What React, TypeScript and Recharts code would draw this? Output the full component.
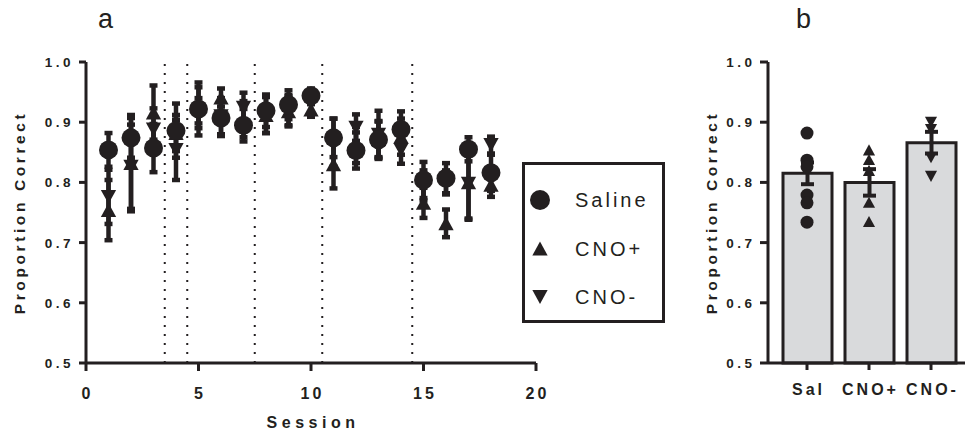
import {
  Bar,
  ComposedChart,
  ErrorBar,
  Legend,
  Line,
  ReferenceLine,
  Scatter,
  ScatterChart,
  XAxis,
  YAxis,
} from 'recharts'

const INK = '#231f20'
const BAR_FILL = '#d9dadc'
const FONT = '"Liberation Sans", Arial, Helvetica, sans-serif'

// panel a: per-session group means and SEM
const sessions = [1, 2, 3, 4, 5, 6, 7, 8, 9, 10, 11, 12, 13, 14, 15, 16, 17, 18]
const salineMean = [0.854, 0.874, 0.857, 0.886, 0.922, 0.907, 0.895, 0.919, 0.929, 0.944, 0.874, 0.853, 0.871, 0.888, 0.804, 0.807, 0.855, 0.816]
const salineErr = [0.028, 0.033, 0.04, 0.045, 0.044, 0.03, 0.027, 0.027, 0.024, 0.012, 0.032, 0.03, 0.03, 0.03, 0.03, 0.025, 0.02, 0.03]
const cnoPlusMean = [0.754, 0.832, 0.916, 0.882, 0.928, 0.941, 0.905, 0.912, 0.918, 0.921, 0.83, 0.862, 0.872, 0.876, 0.766, 0.732, 0.8, 0.796]
const cnoPlusErr = [0.05, 0.08, 0.045, 0.03, 0.03, 0.015, 0.03, 0.03, 0.025, 0.012, 0.04, 0.03, 0.03, 0.03, 0.025, 0.023, 0.06, 0.02]
const cnoMinusMean = [0.776, 0.826, 0.888, 0.854, 0.915, 0.91, 0.924, 0.912, 0.92, 0.94, 0.866, 0.891, 0.879, 0.854, 0.795, 0.8, 0.798, 0.862]
const cnoMinusErr = [0.045, 0.07, 0.035, 0.05, 0.025, 0.03, 0.025, 0.03, 0.025, 0.01, 0.04, 0.022, 0.04, 0.023, 0.025, 0.02, 0.06, 0.014]
const phaseBreaks = [3.5, 4.5, 7.5, 10.5, 14.5]
const sessionTicks = [0, 5, 10, 15, 20]
const proportionTicks = [0.5, 0.6, 0.7, 0.8, 0.9, 1.0]

// panel b: group means, SEM and individual animals
const groups = ['Sal', 'CNO+', 'CNO-']
const groupMean = [0.815, 0.8, 0.866]
const groupErr = [0.018, 0.022, 0.018]
const salPoints = [0.882, 0.837, 0.826, 0.779, 0.766, 0.734]
const cnoPlusPoints = [0.854, 0.838, 0.82, 0.767, 0.735]
const cnoMinusPoints = [0.9, 0.888, 0.841, 0.81]

type Kind = 'circle' | 'up' | 'down'

const toRows = (mean: number[], err: number[]) =>
  sessions.map((x, i) => ({ x, y: mean[i], e: err[i] }))

const salineData = toRows(salineMean, salineErr)
const cnoPlusData = toRows(cnoPlusMean, cnoPlusErr)
const cnoMinusData = toRows(cnoMinusMean, cnoMinusErr)

const groupPoints = [salPoints, cnoPlusPoints, cnoMinusPoints]
const groupKinds: Kind[] = ['circle', 'up', 'down']
const pointKeys = [0, 1, 2, 3, 4, 5].map((i) => `p${i}`)
const barRows = groups.map((name, g) => {
  const row: Record<string, any> = { name, kind: groupKinds[g], mean: groupMean[g], err: groupErr[g] }
  groupPoints[g].forEach((v, i) => {
    row[`p${i}`] = v
  })
  return row
})

const legendItems: { label: string; kind: Kind }[] = [
  { label: 'Saline', kind: 'circle' },
  { label: 'CNO+', kind: 'up' },
  { label: 'CNO-', kind: 'down' },
]

function Marker({ kind, cx, cy, size }: { kind: Kind; cx: number; cy: number; size: number }) {
  if (kind === 'circle') return <circle cx={cx} cy={cy} r={size / 2} fill={INK} />
  const w = size * 0.9
  const h = size * 0.82
  const pts =
    kind === 'up'
      ? `${cx},${cy - h / 2} ${cx + w / 2},${cy + h / 2} ${cx - w / 2},${cy + h / 2}`
      : `${cx},${cy + h / 2} ${cx + w / 2},${cy - h / 2} ${cx - w / 2},${cy - h / 2}`
  return <polygon points={pts} fill={INK} />
}

const tickText = { fill: INK, fontFamily: FONT, fontWeight: 700 }

function YTick({ x, y, payload }: any) {
  return (
    <text x={x} y={y} dy={5} textAnchor="end" fontSize={13.5} letterSpacing={3.5} {...tickText}>
      {Number(payload.value).toFixed(1)}
    </text>
  )
}

function XTick({ x, y, payload }: any) {
  return (
    <text x={x} y={y} dx={1.5} dy={26} textAnchor="middle" fontSize={16} letterSpacing={3} {...tickText}>
      {payload.value}
    </text>
  )
}

function GroupTick({ x, y, payload }: any) {
  return (
    <text x={x} y={y} dx={1.5} dy={23} textAnchor="middle" fontSize={16} letterSpacing={3} {...tickText}>
      {payload.value}
    </text>
  )
}

function yTitle(cx: number) {
  return (props: any) => {
    const vb = props.viewBox
    const cy = vb.y + vb.height / 2
    return (
      <text
        x={cx}
        y={cy}
        dy={5}
        transform={`rotate(-90 ${cx} ${cy})`}
        textAnchor="middle"
        fontSize={15.5}
        letterSpacing={3.6}
        {...tickText}
      >
        Proportion Correct
      </text>
    )
  }
}

function sessionTitle(props: any) {
  const vb = props.viewBox
  return (
    <text x={vb.x + vb.width / 2 + 2} y={vb.y + 65} textAnchor="middle" fontSize={16} letterSpacing={4.5} {...tickText}>
      Session
    </text>
  )
}

function LegendBox() {
  return (
    <svg width={143} height={161}>
      <rect x={1.5} y={1.5} width={140} height={158} fill="#fff" stroke={INK} strokeWidth={3} />
      {legendItems.map((item, i) => {
        const cy = 38 + i * 48.5
        return (
          <g key={item.label}>
            <Marker kind={item.kind} cx={18} cy={cy} size={item.kind === 'circle' ? 20 : 17} />
            <text x={53} y={cy + 7} fontFamily={FONT} fontSize={20} letterSpacing={3} fill={INK}>
              {item.label}
            </text>
          </g>
        )
      })}
    </svg>
  )
}

const axisStroke = { stroke: INK, strokeWidth: 3 }

function scatterShape(kind: Kind) {
  return (p: any) => <Marker kind={kind} cx={p.cx} cy={p.cy} size={kind === 'circle' ? 19 : 17} />
}

function groupDot(p: any) {
  if (p.cy == null || p.value == null || Number.isNaN(p.cy)) return <g key={p.key} />
  const kind = p.payload.kind as Kind
  return (
    <g key={p.key}>
      <Marker kind={kind} cx={p.cx} cy={p.cy} size={kind === 'circle' ? 13 : 13.5} />
    </g>
  )
}

export default function App() {
  return (
    <div style={{ position: 'relative', width: 965, height: 434, background: '#fff', fontFamily: FONT }}>
      <style>{'body{margin:0}'}</style>
      <svg width={965} height={40} style={{ position: 'absolute', left: 0, top: 0 }}>
        <text x={98} y={28} fontFamily={FONT} fontSize={27} fill={INK}>
          a
        </text>
        <text x={796} y={28} fontFamily={FONT} fontSize={27} fill={INK}>
          b
        </text>
      </svg>

      <div style={{ position: 'absolute', left: 0, top: 0 }}>
        <ScatterChart width={700} height={434} margin={{ top: 62, right: 164, bottom: 11, left: 0 }}>
          <XAxis
            type="number"
            dataKey="x"
            domain={[0, 20]}
            ticks={sessionTicks}
            height={60}
            tickSize={8}
            axisLine={axisStroke}
            tickLine={axisStroke}
            tick={<XTick />}
            label={{ content: sessionTitle }}
          />
          <YAxis
            type="number"
            dataKey="y"
            domain={[0.5, 1]}
            ticks={proportionTicks}
            width={86}
            tickSize={7}
            tickMargin={5}
            axisLine={axisStroke}
            tickLine={axisStroke}
            tick={<YTick />}
            label={{ content: yTitle(20) }}
          />
          {phaseBreaks.map((b) => (
            <ReferenceLine key={b} x={b} stroke={INK} strokeWidth={2} strokeDasharray="2 7" />
          ))}
          <Scatter name="CNO-" data={cnoMinusData} shape={scatterShape('down')} isAnimationActive={false}>
            <ErrorBar dataKey="e" direction="y" width={4} strokeWidth={4.5} stroke={INK} />
          </Scatter>
          <Scatter name="CNO+" data={cnoPlusData} shape={scatterShape('up')} isAnimationActive={false}>
            <ErrorBar dataKey="e" direction="y" width={4} strokeWidth={4.5} stroke={INK} />
          </Scatter>
          <Scatter name="Saline" data={salineData} shape={scatterShape('circle')} isAnimationActive={false}>
            <ErrorBar dataKey="e" direction="y" width={4} strokeWidth={4.5} stroke={INK} />
          </Scatter>
          <Legend
            layout="horizontal"
            verticalAlign="middle"
            align="center"
            content={() => <LegendBox />}
            wrapperStyle={{ left: 522, top: 162, width: 143, height: 161 }}
          />
        </ScatterChart>
      </div>

      <div style={{ position: 'absolute', left: 690, top: 0 }}>
        <ComposedChart width={275} height={434} data={barRows} margin={{ top: 62, right: 0, bottom: 11, left: 0 }}>
          <XAxis
            dataKey="name"
            padding={{ left: 8, right: 3 }}
            height={60}
            tickSize={7}
            axisLine={axisStroke}
            tickLine={axisStroke}
            tick={<GroupTick />}
          />
          <YAxis
            type="number"
            domain={[0.5, 1]}
            ticks={proportionTicks}
            width={78}
            tickSize={8}
            tickMargin={4.5}
            axisLine={axisStroke}
            tickLine={axisStroke}
            tick={<YTick />}
            label={{ content: yTitle(22) }}
          />
          <Bar dataKey="mean" fill={BAR_FILL} stroke={INK} strokeWidth={3} barSize={49} isAnimationActive={false}>
            <ErrorBar dataKey="err" width={6.5} strokeWidth={4} stroke={INK} />
          </Bar>
          {pointKeys.map((k) => (
            <Line
              key={k}
              dataKey={k}
              stroke="none"
              dot={groupDot}
              activeDot={false}
              legendType="none"
              isAnimationActive={false}
            />
          ))}
        </ComposedChart>
      </div>
    </div>
  )
}
